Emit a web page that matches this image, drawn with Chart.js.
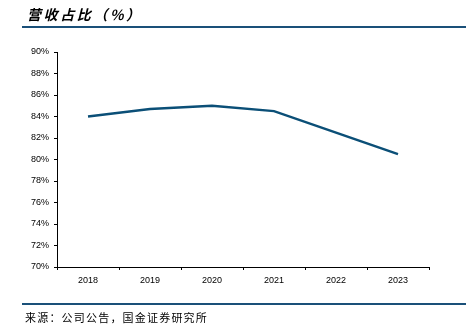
<!DOCTYPE html>
<html>
<head>
<meta charset="utf-8">
<script src="https://cdn.jsdelivr.net/npm/chart.js@4"></script>
<style>
  html, body { margin: 0; padding: 0; background: #fff; }
  #wrap { position: relative; width: 466px; height: 332px; overflow: hidden; }
  #chart { position: absolute; left: 0; top: 0; }
  .title {
    position: absolute; left: 27px; top: 4px;
    font-family: "Noto Sans CJK SC", sans-serif; font-weight: bold; font-style: italic;
    font-size: 14px; letter-spacing: 2.6px; color: #000;
  }
  .rule { position: absolute; left: 22px; right: 0; height: 2px; background: #1a5079; }
  .source {
    position: absolute; left: 25px; top: 309px;
    font-family: "Noto Sans CJK SC", sans-serif; font-size: 11px; letter-spacing: 1.2px; color: #000;
  }
</style>
</head>
<body>
<div id="wrap">
  <canvas id="chart" width="466" height="332"></canvas>
  <div class="title">营收占比（%）</div>
  <div class="rule" style="top:26px"></div>
  <div class="rule" style="top:303px"></div>
  <div class="source">来源：公司公告，国金证券研究所</div>
</div>
<script>
const years = ["2018", "2019", "2020", "2021", "2022", "2023"];
const revenueShare = [84.0, 84.7, 85.0, 84.5, 82.5, 80.5];
const yMin = 70;
const yMax = 90;
const yStep = 2;

const tickFont = { family: "Liberation Sans, Arial, sans-serif", size: 9 };

const config = {
  type: "line",
  data: {
    labels: years,
    datasets: [
      {
        label: "营收占比",
        data: revenueShare,
        borderColor: "#0b4f77",
        backgroundColor: "#0b4f77",
        borderWidth: 2.5,
        pointRadius: 0,
        tension: 0,
      },
    ],
  },
  options: {
    responsive: false,
    animation: false,
    layout: { padding: { left: 0, right: 37, top: 52, bottom: 0 } },
    plugins: { legend: { display: false }, tooltip: { enabled: false } },
    scales: {
      x: {
        offset: true,
        grid: {
          offset: true,
          drawOnChartArea: false,
          drawTicks: true,
          tickLength: 3,
          color: "#000",
        },
        border: { color: "#000", width: 1 },
        ticks: { color: "#000", font: tickFont, padding: 5, maxRotation: 0 },
        afterFit: (scale) => { scale.height = 65; },
      },
      y: {
        min: yMin,
        max: yMax,
        grid: {
          drawOnChartArea: false,
          drawTicks: true,
          tickLength: 3,
          color: "#000",
        },
        border: { color: "#000", width: 1 },
        ticks: {
          stepSize: yStep,
          color: "#000",
          font: tickFont,
          padding: 5,
          callback: (v) => v + "%",
        },
        afterFit: (scale) => { scale.width = 57; },
      },
    },
  },
};

new Chart(document.getElementById("chart"), config);
</script>
</body>
</html>
